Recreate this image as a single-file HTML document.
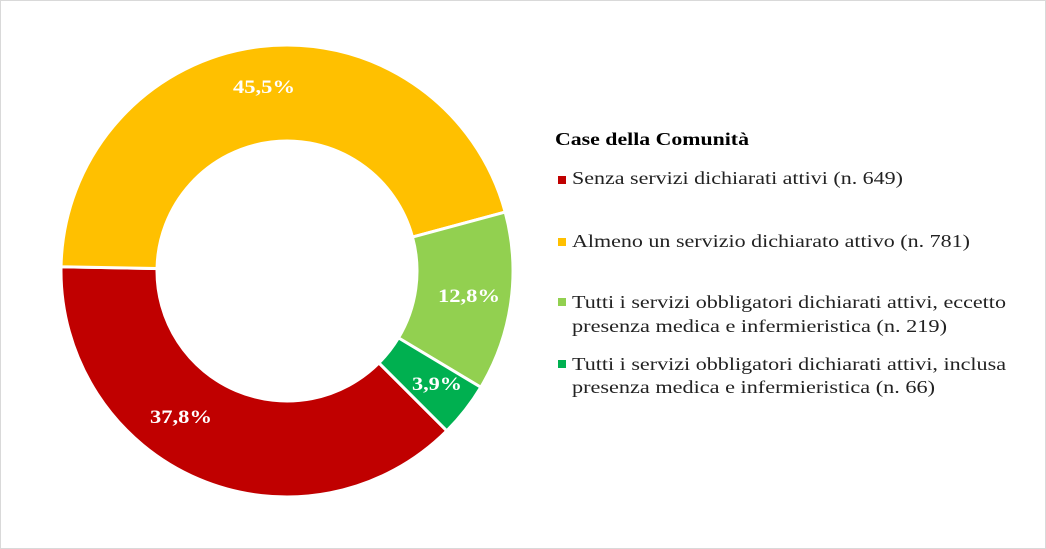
<!DOCTYPE html>
<html><head><meta charset="utf-8"><style>
html,body{margin:0;padding:0;background:#fff;}
svg{display:block;}
</style></head><body>
<svg width="1046" height="549" viewBox="0 0 1046 549" xmlns="http://www.w3.org/2000/svg" font-family="'Liberation Serif', serif">
<rect x="0.5" y="0.5" width="1045" height="548" fill="#fff" stroke="#d9d9d9"/>
<g id="donut" stroke="#fff" stroke-width="3"></g>
<g font-weight="bold" font-size="19" fill="#fff" text-anchor="middle">
<text x="264" y="93" textLength="62" lengthAdjust="spacingAndGlyphs">45,5%</text>
<text x="469" y="302" textLength="62" lengthAdjust="spacingAndGlyphs">12,8%</text>
<text x="437" y="390" textLength="50" lengthAdjust="spacingAndGlyphs">3,9%</text>
<text x="181" y="423" textLength="62" lengthAdjust="spacingAndGlyphs">37,8%</text>
</g>
<text x="555" y="145" font-size="18" font-weight="bold" textLength="194" lengthAdjust="spacingAndGlyphs">Case della Comunità</text>
<rect x="558" y="176" width="8" height="8" fill="#c00000"/>
<rect x="558" y="238" width="8" height="8" fill="#ffc000"/>
<rect x="558" y="298" width="8" height="8" fill="#92d050"/>
<rect x="558" y="360" width="8" height="8" fill="#00b050"/>
<g font-size="18" fill="#222">
<text x="572" y="184" textLength="331" lengthAdjust="spacingAndGlyphs">Senza servizi dichiarati attivi (n. 649)</text>
<text x="572" y="247" textLength="398" lengthAdjust="spacingAndGlyphs">Almeno un servizio dichiarato attivo (n. 781)</text>
<text x="572" y="308" textLength="434" lengthAdjust="spacingAndGlyphs">Tutti i servizi obbligatori dichiarati attivi, eccetto</text>
<text x="572" y="332" textLength="375" lengthAdjust="spacingAndGlyphs">presenza medica e infermieristica (n. 219)</text>
<text x="572" y="370" textLength="434" lengthAdjust="spacingAndGlyphs">Tutti i servizi obbligatori dichiarati attivi, inclusa</text>
<text x="572" y="393" textLength="363" lengthAdjust="spacingAndGlyphs">presenza medica e infermieristica (n. 66)</text>
</g>
</svg>
<script>
(function(){
var cx=287,cy=271,R=226,r=130;
var data=[[37.8,'#c00000'],[45.5,'#ffc000'],[12.8,'#92d050'],[3.9,'#00b050']];
var a=135,g=document.getElementById('donut'),ns='http://www.w3.org/2000/svg';
function pt(rad,deg){var t=(deg-90)*Math.PI/180;return [cx+rad*Math.cos(t),cy+rad*Math.sin(t)];}
data.forEach(function(d){
 var s=d[0]*3.6,e=a+s,l=s>180?1:0;
 var p1=pt(R,a),p2=pt(R,e),p3=pt(r,e),p4=pt(r,a);
 var p=document.createElementNS(ns,'path');
 p.setAttribute('d','M'+p1+' A'+R+' '+R+' 0 '+l+' 1 '+p2+' L'+p3+' A'+r+' '+r+' 0 '+l+' 0 '+p4+' Z');
 p.setAttribute('fill',d[1]);g.appendChild(p);a=e;
});
})();
</script>
</body></html>
